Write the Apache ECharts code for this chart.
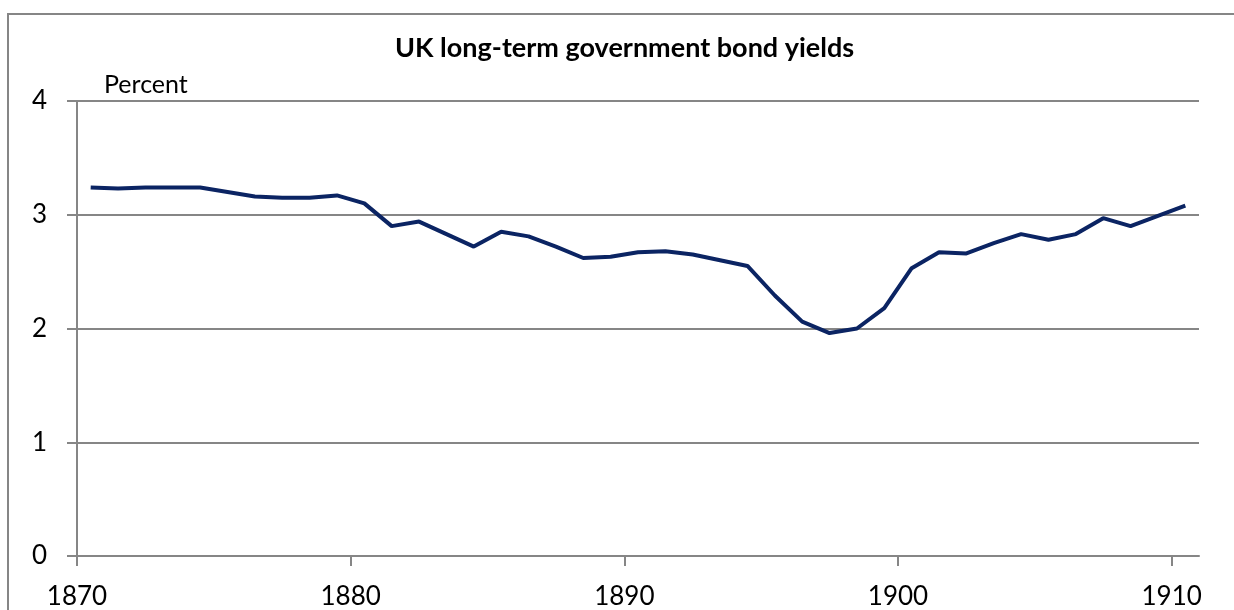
<!DOCTYPE html>
<html>
<head>
<meta charset="utf-8">
<title>UK long-term government bond yields</title>
<script src="https://cdn.jsdelivr.net/npm/echarts@6/dist/echarts.min.js"></script>
<style>
  html, body { margin: 0; padding: 0; background: #fff; }
  #chart { width: 1234px; height: 610px; }
</style>
</head>
<body>
<div id="chart"></div>
<script>
// years 1870..1910, each point drawn at the middle of its year
var years = [1870, 1871, 1872, 1873, 1874, 1875, 1876, 1877, 1878, 1879,
  1880, 1881, 1882, 1883, 1884, 1885, 1886, 1887, 1888, 1889,
  1890, 1891, 1892, 1893, 1894, 1895, 1896, 1897, 1898, 1899,
  1900, 1901, 1902, 1903, 1904, 1905, 1906, 1907, 1908, 1909, 1910]
var yields = [3.24, 3.23, 3.24, 3.24, 3.24, 3.20, 3.16, 3.15, 3.15, 3.17,
  3.10, 2.90, 2.94, 2.83, 2.72, 2.85, 2.81, 2.72, 2.62, 2.63,
  2.67, 2.68, 2.65, 2.60, 2.55, 2.29, 2.06, 1.96, 2.00, 2.18,
  2.53, 2.67, 2.66, 2.75, 2.83, 2.78, 2.83, 2.97, 2.90, 2.99, 3.08]
var xTicks = [1870, 1880, 1890, 1900, 1910]
var yTicks = [0, 1, 2, 3, 4]

var font = 'Lato'
var gray = '#868686'

var chart = echarts.init(document.getElementById('chart'))

var option = {
  animation: false,
  title: {
    text: 'UK long-term government bond yields',
    left: 390,
    top: 30,
    textStyle: { fontFamily: font, fontWeight: 'bold', fontSize: 27, color: '#000' }
  },
  graphic: [{
    type: 'rect',
    shape: { x: 8, y: 14, width: 1300, height: 700 },
    style: { fill: 'none', stroke: gray, lineWidth: 2 },
    silent: true
  }],
  grid: { left: 77, right: 35, top: 101, bottom: 53 },
  xAxis: {
    type: 'value',
    min: 1870,
    max: 1911,
    interval: 10,
    splitLine: { show: false },
    axisLine: { show: true, onZero: false, lineStyle: { color: gray, width: 2 } },
    axisTick: { show: true, length: 10, customValues: xTicks, lineStyle: { color: gray, width: 2 } },
    axisLabel: {
      customValues: xTicks,
      formatter: function (v) { return String(v) },
      margin: 28,
      fontFamily: font, fontSize: 26, color: '#000'
    }
  },
  yAxis: {
    type: 'value',
    min: 0,
    max: 4,
    interval: 1,
    name: 'Percent',
    nameLocation: 'end',
    nameGap: 4,
    nameTextStyle: { fontFamily: font, fontSize: 25, color: '#000', align: 'left', padding: [0, 0, 0, 27] },
    axisLine: { show: true, lineStyle: { color: gray, width: 2 } },
    axisTick: { show: true, length: 10, customValues: yTicks, lineStyle: { color: gray, width: 2 } },
    splitLine: { show: true, lineStyle: { color: gray, width: 2 } },
    axisLabel: { margin: 30, fontFamily: font, fontSize: 26, color: '#000' }
  },
  series: [{
    type: 'line',
    data: years.map(function (y, i) { return [y + 0.5, yields[i]] }),
    showSymbol: false,
    lineStyle: { color: '#0b2463', width: 4 },
    z: 5
  }]
}

chart.setOption(option)
</script>
</body>
</html>
